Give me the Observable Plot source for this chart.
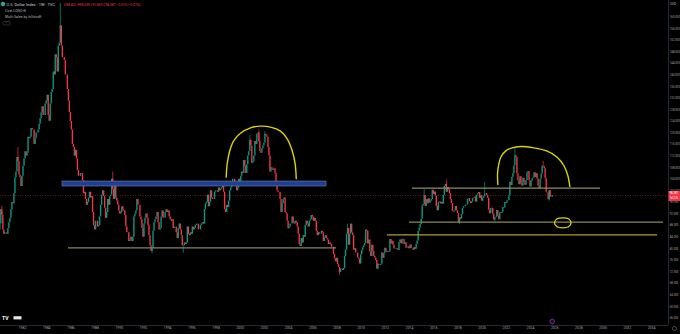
<!DOCTYPE html>
<html><head><meta charset="utf-8">
<script src="https://cdn.jsdelivr.net/npm/d3@7"></script>
<script src="https://cdn.jsdelivr.net/npm/@observablehq/plot@0.6"></script>
<style>html,body{margin:0;padding:0;background:#000;} #chart{width:680px;height:334px;overflow:hidden;background:#000;}</style>
</head><body><div id="chart"></div>
<script>
// ---- Monthly closes of the U.S. Dollar Index (TVC:DXY) ----
const startYear = 1980;
const priorClose = 85.5; // Dec 1979
const c1980s = [
  86.5, 88.5, 93.5, 91.5, 86.5, 85.0, 85.5, 85.5, 85.0, 87.0, 89.0, 90.5,
  93.5, 96.0, 95.5, 99.0, 104.5, 106.5, 111.5, 110.0, 105.5, 104.5, 101.5, 105.0,
  108.5, 111.0, 113.5, 112.0, 113.0, 118.5, 118.0, 118.5, 121.5, 121.0, 121.0, 116.0,
  118.0, 120.0, 120.0, 121.0, 123.0, 125.0, 127.0, 129.0, 126.0, 126.0, 130.0, 131.0,
  133.0, 126.0, 124.0, 130.0, 134.0, 135.0, 141.0, 140.0, 147.0, 146.0, 141.0, 150.0,
  151, 157, 150, 146, 146, 145, 140, 140, 135, 131, 127, 124,
  121, 116, 115, 112, 114, 111, 107, 105, 105, 106, 106, 103.5,
  99, 99.5, 97, 95, 96, 97.5, 99.5, 97.5, 98, 92.5, 88, 86.5,
  89.5, 89.5, 87.5, 88, 91, 95, 98.5, 100, 98, 94, 90.5, 92.5,
  97, 95, 98, 98.5, 104, 100.5, 97, 101.5, 97.5, 96.5, 95, 93
];
const c1990s = [
  92, 92.5, 94.5, 93.5, 93, 91.5, 87.5, 85.5, 85.5, 82.5, 83, 84,
  82.5, 84, 91, 92, 93, 97, 95, 95, 91, 90, 87, 84,
  88.5, 90.5, 92, 90.5, 88, 84.5, 81, 79, 80, 86, 89, 90,
  91, 92.5, 89, 86.5, 87, 91, 93, 90.5, 90.5, 92.5, 93.5, 92.5,
  93, 91, 90, 89.5, 90, 87, 87.5, 87.5, 85.5, 83.5, 87, 88.5,
  86.5, 84.5, 81, 81, 82, 81.5, 82, 87.5, 85, 84.5, 85.5, 85,
  87.5, 86.5, 87, 88, 88.5, 88.5, 86.5, 86.5, 88, 88.5, 89, 88.5,
  93.5, 95.5, 96, 98.5, 94.5, 96, 100, 97.5, 97, 97, 99.5, 100,
  100, 99.5, 101, 100, 100.5, 101, 101.5, 99.5, 93.5, 92.5, 95, 94.2,
  96.5, 100, 101, 102, 104, 104, 101.5, 102, 100, 101, 104, 101.5
];
const c2000s = [
  105, 106.5, 106, 110.5, 108.5, 106, 109, 112, 113.5, 117.5, 115.5, 109.5,
  110, 112, 117, 116, 119.5, 120, 117, 113.5, 113, 114.5, 115.5, 116.5,
  119.5, 119, 118.5, 115, 112, 106.5, 108, 107.5, 107, 107.5, 106, 102,
  100, 99.5, 99.5, 97, 92.5, 95.5, 97, 97.5, 92.5, 92, 89.5, 86.9,
  87.5, 88.5, 88.5, 91, 89, 88.5, 89.5, 89, 87.5, 85, 81.5, 80.8,
  83.5, 82, 84.5, 84, 88, 89.5, 88.5, 87.5, 89.5, 90, 91.5, 90.9,
  89.5, 90.5, 89.5, 86, 84.5, 85.5, 85, 85, 86, 85.5, 82.5, 83.7,
  84.5, 83.5, 83, 81.5, 82, 81.5, 80.5, 80.5, 78, 76.5, 75.5, 76.7,
  74.5, 73.5, 71.8, 73, 72.9, 72.5, 73.2, 77.3, 79.5, 85, 87, 81.2,
  85, 88.5, 85.5, 84.5, 79.5, 80, 78.5, 78.5, 76.8, 76.4, 74.7, 77.9
];
const c2010s = [
  79.5, 80.3, 81, 81.8, 86.5, 86, 81.6, 83, 78.9, 77.3, 81.2, 79,
  77.3, 76.8, 75.9, 73, 74.6, 74.3, 74.2, 74.6, 78.5, 76.7, 78.3, 80.2,
  79, 78.7, 79, 78.9, 83.2, 81.6, 82.6, 81.2, 79.9, 79.9, 80.1, 79.8,
  79.4, 82.1, 83, 81.6, 83.3, 83.2, 81.5, 82.1, 80.2, 80.2, 80.7, 80,
  81.3, 80.2, 80.1, 79.5, 80.4, 79.8, 81.5, 82.7, 86, 87.1, 88.4, 90.3,
  94.8, 95.3, 98.4, 94.6, 96.9, 95.5, 97.3, 95.8, 96.4, 97, 100.2, 98.7,
  99.6, 98.2, 94.6, 93.1, 95.9, 96.1, 95.5, 96, 95.4, 98.4, 101.5, 102.2,
  99.5, 101.1, 100.4, 99, 97, 95.6, 92.9, 92.7, 93.1, 94.6, 93.1, 92.1,
  89.1, 90.6, 90.2, 91.8, 94, 94.5, 94.5, 95.1, 95.1, 97.1, 97.3, 96.2,
  95.6, 96.2, 97.3, 97.5, 97.8, 96.1, 98.5, 98.9, 99.4, 97.4, 98.3, 96.4
];
const c2020s = [
  97.4, 98.1, 99, 99, 98.3, 97.4, 93.3, 92.1, 93.9, 94, 91.9, 89.9,
  90.6, 90.9, 93.2, 91.3, 90, 92.4, 92.2, 92.6, 94.2, 94.1, 96, 95.7,
  96.5, 96.7, 98.3, 103, 101.8, 104.7, 105.9, 108.7, 112.1, 111.5, 105.9, 103.5,
  102.1, 104.9, 102.5, 101.7, 104.3, 102.9, 101.9, 103.6, 106.2, 106.7, 103.5, 101.3,
  103.3, 104.2, 104.5, 106.2, 104.6, 105.9, 104.1, 101.7, 100.8, 104, 105.7, 108.5,
  108.4, 107.6, 104.2, 99.5, 99.3, 96.9, 100, 97.8, 97.8, 98.387
];
// notable intramonth extremes (year, month, price)
const extremes = [
  [1980, 4, 94.6], [1981, 8, 115.0], [1985, 2, 164.7], [1989, 6, 106.5], [1992, 9, 78.2],
  [1995, 4, 78.4], [2000, 10, 119.0], [2001, 7, 121.0], [2002, 1, 120.5], [2008, 3, 70.7],
  [2008, 11, 88.5], [2011, 5, 72.7], [2015, 3, 100.4], [2017, 1, 103.8], [2018, 2, 88.3],
  [2020, 3, 103.0], [2021, 1, 89.2], [2022, 9, 114.8], [2025, 1, 110.2], [2025, 7, 96.4]
];
// ---- drawings on the chart (decimal year, price) ----
const zoneFrom = 1985.31, zoneTo = 2007.13, zoneTop = 103.2, zoneBottom = 101.5;
const levelPrice = [80.3, 100.9, 89.16, 84.81];
const levelFrom  = [1985.80, 2014.24, 2013.99, 2012.17];
const levelTo    = [2007.96, 2029.78, 2034.99, 2034.50];
const levelColor = ["#80846f", "#8f8e5c", "#8a8a50", "#ada023"];
const arc1Year  = [1998.84, 1998.92, 1999.14, 1999.47, 2000.02, 2000.85, 2001.68, 2002.50, 2003.33, 2003.88, 2004.29, 2004.54, 2004.63];
const arc1Price = [104.72, 109.32, 113.93, 117.38, 119.91, 121.76, 122.33, 121.99, 120.60, 117.96, 113.93, 109.32, 104.14];
const arc2Year  = [2021.30, 2021.27, 2021.38, 2021.57, 2021.93, 2022.48, 2023.17, 2024.27, 2025.38, 2026.20, 2026.75, 2027.08, 2027.25];
const arc2Price = [102.18, 105.87, 109.32, 111.85, 113.70, 114.85, 115.31, 114.85, 113.70, 111.62, 108.75, 105.29, 101.49];
const ringYear  = [2025.98, 2026.19, 2026.67, 2027.14, 2027.35, 2027.14, 2026.67, 2026.19];
const ringPrice = [88.95, 90.34, 90.68, 90.34, 88.95, 87.57, 87.23, 87.57];
// ---- axis ticks ----
const yearTicks = d3.range(1982, 2035, 2);
const priceTicks = d3.range(56, 161, 4);

const up = "#089981", down = "#f23645";
const closes = [...c1980s, ...c1990s, ...c2000s, ...c2010s, ...c2020s];
const candles = closes.map((c, i) => {
  const o = i ? closes[i - 1] : priorClose;
  return {t: startYear + (i + 0.5) / 12, open: o, close: c, color: c >= o ? up : down};
});
const wicks = extremes.map(([yr, m, v]) => {
  const k = (yr - startYear) * 12 + m - 1;
  return {t: startYear + (k + 0.5) / 12, base: candles[k].close, v, color: candles[k].color};
});
const levels = levelPrice.map((v, i) => ({v, from: levelFrom[i], to: levelTo[i], c: levelColor[i]}));
const arc1 = arc1Year.map((t, i) => ({t, v: arc1Price[i]}));
const arc2 = arc2Year.map((t, i) => ({t, v: arc2Price[i]}));
const ring = ringYear.map((t, i) => ({t, v: ringPrice[i]}));
const last = candles[candles.length - 1];
const xDomain = [1980.181, 2035.405], yDomain = [53.48, 165.74];
const yellow = "#dcd300";

const svg = Plot.plot({
  width: 680, height: 334,
  marginLeft: 0, marginRight: 12, marginTop: 0, marginBottom: 9,
  style: {background: "#000", fontFamily: "Roboto, sans-serif"},
  x: {type: "linear", domain: xDomain},
  y: {type: "linear", domain: yDomain},
  color: {type: "identity"},
  marks: [
    Plot.ruleY([last.close], {stroke: down, strokeOpacity: 0.75, strokeWidth: 0.6, strokeDasharray: "1,1.5"}),
    Plot.ruleX(wicks, {x: "t", y1: "base", y2: "v", stroke: "color", strokeWidth: 0.7, clip: true}),
    Plot.ruleX(candles, {x: "t", y1: "open", y2: "close", stroke: "color", strokeWidth: 1.4, clip: true}),
    Plot.rect([0], {x1: () => zoneFrom, x2: () => zoneTo, y1: () => zoneBottom, y2: () => zoneTop, fill: "#1f3e96", stroke: "#66789c", strokeWidth: 0.7}),
    Plot.ruleY(levels, {y: "v", x1: "from", x2: "to", stroke: "c", strokeWidth: 1.3, clip: true}),
    Plot.line(arc1, {x: "t", y: "v", curve: "catmull-rom", stroke: yellow, strokeWidth: 1.4}),
    Plot.line(arc2, {x: "t", y: "v", curve: "catmull-rom", stroke: yellow, strokeWidth: 1.4}),
    Plot.line(ring, {x: "t", y: "v", curve: "catmull-rom-closed", stroke: yellow, strokeWidth: 1.3}),
    Plot.ruleX([xDomain[1]], {stroke: "#2f323c", strokeWidth: 0.8}),
    Plot.ruleY([yDomain[0]], {stroke: "#2f323c", strokeWidth: 0.8}),
    Plot.axisX(yearTicks, {anchor: "bottom", tickSize: 0, tickPadding: 1.2, fontSize: 3.4, fill: "#a3a6af", tickFormat: d => String(d)}),
    Plot.axisY(priceTicks, {anchor: "right", tickSize: 0, tickPadding: 1.3, fontSize: 2.8, fill: "#a3a6af", textAnchor: "start", tickFormat: d => d.toFixed(3)}),
    Plot.dot([last], {x: "t", frameAnchor: "bottom", dy: -4, r: 2.3, stroke: "#9c3fbf", fill: "#1a0a22", strokeWidth: 0.7})
  ]
});
document.getElementById("chart").appendChild(svg);

// ---- TradingView style overlays (text/UI) ----
const g = d3.select(svg).append("g").attr("font-family", "Roboto, sans-serif").attr("text-anchor", "start");
const ys = svg.scale("y");
const py = ys.apply(last.close);
g.append("rect").attr("x", 668.5).attr("y", py - 4).attr("width", 12).attr("height", 10).attr("fill", down);
g.append("text").attr("x", 669.5).attr("y", py - 0.6).attr("font-size", 2.8).attr("fill", "#fff").text(last.close.toFixed(3));
g.append("text").attr("x", 669.5).attr("y", py + 3.8).attr("font-size", 2.8).attr("fill", "#fff").text("1d 22h");
g.append("text").attr("x", 670).attr("y", 5).attr("font-size", 3.2).attr("fill", "#b2b5be").text("USD");
g.append("circle").attr("cx", 674.5).attr("cy", 328.5).attr("r", 2).attr("fill", "none").attr("stroke", "#8a8d96").attr("stroke-width", 0.5);
// legend
g.append("circle").attr("cx", 3).attr("cy", 4).attr("r", 2.2).attr("fill", "#22ab94");
g.append("text").attr("x", 6.5).attr("y", 5.6).attr("font-size", 4).attr("fill", "#d1d4dc").text("U.S. Dollar Index · 1W · TVC");
g.append("text").attr("x", 64).attr("y", 5.6).attr("font-size", 3.3).attr("fill", down).text("O98.401 H98.639 L97.869 C98.387 −0.013 (−0.01%)");
g.append("text").attr("x", 5).attr("y", 11.8).attr("font-size", 3.6).attr("fill", "#b2b5be").text("Cost LOGO");
g.append("circle").attr("cx", 24.5).attr("cy", 10.6).attr("r", 1.5).attr("fill", "#50535e");
g.append("text").attr("x", 5).attr("y", 17.8).attr("font-size", 3.6).attr("fill", "#b2b5be").text("Multi Sales by InSitus");
g.append("circle").attr("cx", 40).attr("cy", 16.6).attr("r", 1.5).attr("fill", "#50535e");
g.append("rect").attr("x", 3).attr("y", 21.5).attr("width", 7).attr("height", 3.5).attr("rx", 0.8).attr("fill", "none").attr("stroke", "#50535e").attr("stroke-width", 0.5);
g.append("text").attr("x", 6.5).attr("y", 24.3).attr("font-size", 3).attr("text-anchor", "middle").attr("fill", "#b2b5be").text("⌃");
// logo
g.append("text").attr("x", 2).attr("y", 319.6).attr("font-size", 5).attr("font-weight", 900).attr("fill", "#e8e8e8").text("TV");
g.append("rect").attr("x", 13.5).attr("y", 316.2).attr("width", 8).attr("height", 3.2).attr("fill", "#e8e8e8");
</script></body></html>
